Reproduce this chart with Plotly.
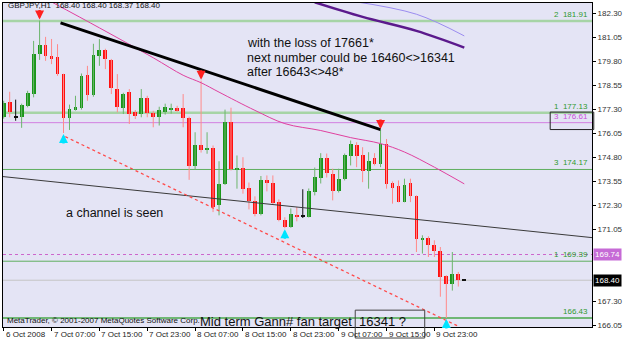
import plotly.graph_objects as go

# ---------------- data ----------------
tick_bars = [0, 8, 16, 24, 32, 40, 48, 56, 64, 72]
tick_labels = ["6 Oct 2008", "7 Oct 07:00", "7 Oct 15:00", "7 Oct 23:00", "8 Oct 07:00",
               "8 Oct 15:00", "8 Oct 23:00", "9 Oct 07:00", "9 Oct 15:00", "9 Oct 23:00"]

opens = [176.92, 177.67, 176.93, 176.92, 177.48, 178.10, 180.18, 180.66, 180.09, 180.04,
         179.14, 176.86, 177.27, 177.35, 179.10, 178.07, 180.09, 180.40, 179.88, 178.39,
         177.35, 178.19, 177.15, 177.06, 177.89, 177.13, 176.89, 177.18, 177.29, 177.36,
         177.37, 176.86, 174.33, 175.42, 175.21, 175.30, 172.30, 173.43, 176.66, 174.15,
         174.26, 173.22, 172.51, 171.83, 173.63, 173.46, 172.46, 171.54, 171.17, 171.81,
         171.76, 171.71, 172.99, 173.75, 174.79, 173.91, 173.03, 173.65, 174.85, 175.47,
         174.92, 174.07, 174.77, 174.47, 175.51, 173.48, 173.29, 172.47, 173.44, 172.77,
         170.52, 170.62, 170.22, 169.93, 168.61, 168.22, 168.72, 168.40]
highs = [177.75, 178.22, 177.81, 177.60, 178.27, 180.87, 181.93, 181.08, 180.97, 180.70,
         179.16, 177.55, 178.01, 179.17, 179.57, 180.72, 180.97, 180.46, 179.93, 179.14,
         178.17, 178.36, 177.27, 178.36, 178.01, 177.23, 177.44, 177.60, 177.60, 177.49,
         178.10, 176.92, 176.11, 178.80, 176.11, 175.42, 174.60, 177.29, 177.39, 174.90,
         174.81, 173.49, 172.77, 173.83, 173.86, 173.86, 172.61, 171.68, 172.14, 172.21,
         173.14, 173.18, 174.27, 175.02, 175.00, 174.21, 174.21, 175.00, 175.68, 175.59,
         175.33, 175.07, 175.02, 176.23, 175.76, 173.55, 173.60, 173.69, 173.69, 172.82,
         170.74, 170.69, 170.48, 170.13, 168.66, 169.87, 168.83, 168.40]
lows = [176.82, 176.89, 176.71, 176.34, 177.41, 177.93, 179.88, 179.83, 179.66, 179.05,
        176.07, 176.23, 177.24, 177.29, 177.75, 177.96, 179.57, 179.40, 178.10, 177.15,
        177.06, 176.54, 176.80, 176.89, 176.89, 176.37, 176.46, 177.03, 177.08, 177.18,
        176.37, 173.63, 174.15, 175.05, 174.99, 171.95, 171.78, 173.36, 174.12, 173.17,
        172.91, 172.09, 171.73, 171.78, 173.03, 172.35, 171.47, 171.11, 171.13, 171.47,
        171.64, 171.67, 172.82, 173.44, 173.75, 172.56, 172.97, 173.60, 174.38, 174.29,
        173.51, 173.17, 174.38, 174.29, 173.17, 172.39, 172.46, 172.46, 172.47, 169.87,
        169.79, 169.61, 169.61, 167.54, 166.43, 167.86, 168.07, 168.37]
closes = [177.65, 177.15, 176.91, 177.53, 178.13, 180.21, 180.66, 180.09, 179.95, 179.14,
          176.86, 177.30, 177.44, 179.05, 178.07, 180.14, 180.40, 179.92, 178.41, 177.41,
          178.10, 177.06, 176.98, 177.87, 177.09, 176.89, 177.27, 177.44, 177.39, 177.26,
          176.86, 174.33, 175.42, 175.18, 175.31, 172.21, 173.43, 176.66, 174.21, 174.26,
          173.17, 172.53, 171.85, 173.63, 173.46, 172.40, 171.54, 171.17, 171.85, 171.69,
          171.74, 173.03, 173.77, 174.77, 174.01, 173.05, 173.65, 174.90, 175.51, 174.87,
          174.07, 174.59, 174.43, 175.51, 173.43, 173.23, 172.47, 173.34, 172.77, 170.53,
          170.62, 170.22, 169.93, 168.57, 168.22, 168.72, 168.40, 168.40]

# moving averages (read at selected bars)
ma_pink_bars = [8, 16, 25, 30, 33, 36, 42, 47, 53, 58, 63, 67, 72, 77]
ma_pink_vals = [182.90, 181.55, 179.99, 179.08, 178.69, 178.20, 177.25, 176.56, 176.20,
                175.83, 175.52, 175.08, 174.29, 173.42]
ma_purple_bars = [52, 60, 69, 77]
ma_purple_vals = [182.88, 182.12, 181.39, 180.52]
ma_violet_bars = [58, 69, 77]
ma_violet_vals = [182.95, 182.26, 181.13]

# drawn objects
trend_bars = [9.5, 63]
trend_vals = [181.81, 176.25]
channel_bars = [-0.12, 98.35]
channel_vals = [173.80, 170.62]
gann_bars = [10.3, 76]
gann_vals = [175.88, 166.00]

levels = [181.91, 177.13, 176.61, 174.17, 169.39, 166.43]
level_text = ["2  181.91", "1  177.13", "3  176.61", "3  174.17", "1  169.39", "166.43"]
stop_level = 169.74
bid_price = 168.40

down_arrow_bars = [6, 33, 63]
up_arrow_bars = [10, 47, 74]

y_ticks = [182.30, 181.05, 179.80, 178.55, 177.30, 176.05, 174.80, 173.55, 172.30,
           171.05, 167.30, 166.05]

# ---------------- styles ----------------
UP_BODY, DN_BODY, DOJI = "#1a961a", "#ff1010", "#111111"
UP_WICK, DN_WICK = "#6cb56c", "#ff8a8a"
FONT = "Liberation Sans"

fig = go.Figure()

idx = list(range(len(opens)))
kinds = []
for o, c in zip(opens, closes):
    if abs(c - o) < 0.03:
        kinds.append("doji")
    elif c > o:
        kinds.append("up")
    else:
        kinds.append("dn")

for kind, col in (("up", UP_WICK), ("dn", DN_WICK), ("doji", DOJI)):
    xs, ys = [], []
    for i, k in enumerate(kinds):
        if k == kind:
            xs += [i, i, None]
            ys += [lows[i], highs[i], None]
    fig.add_trace(go.Scatter(x=xs, y=ys, mode="lines", line=dict(color=col, width=1),
                             hoverinfo="skip"))

heights, bases, cols = [], [], []
for i, k in enumerate(kinds):
    o, c = opens[i], closes[i]
    if k == "doji":
        heights.append(0.05)
        bases.append((o + c) / 2 - 0.025)
        cols.append(DOJI)
    else:
        heights.append(abs(c - o))
        bases.append(min(o, c))
        cols.append(UP_BODY if k == "up" else DN_BODY)
fig.add_trace(go.Bar(x=idx, y=heights, base=bases, marker=dict(color=cols, line=dict(width=0)),
                     width=0.64, hoverinfo="skip"))

# lines
fig.add_trace(go.Scatter(x=ma_pink_bars, y=ma_pink_vals, mode="lines",
                         line=dict(color="#e0409f", width=1, shape="spline"), hoverinfo="skip"))
fig.add_trace(go.Scatter(x=ma_purple_bars, y=ma_purple_vals, mode="lines",
                         line=dict(color="#5b1a8c", width=2.5, shape="spline"), hoverinfo="skip"))
fig.add_trace(go.Scatter(x=ma_violet_bars, y=ma_violet_vals, mode="lines",
                         line=dict(color="#9b8cf0", width=1, shape="spline"), hoverinfo="skip"))
fig.add_trace(go.Scatter(x=channel_bars, y=channel_vals, mode="lines",
                         line=dict(color="#3a3a3a", width=1), hoverinfo="skip"))
fig.add_trace(go.Scatter(x=gann_bars, y=gann_vals, mode="lines",
                         line=dict(color="#ff4a4a", width=1.3, dash="dot"), hoverinfo="skip"))
fig.add_trace(go.Scatter(x=trend_bars, y=trend_vals, mode="lines",
                         line=dict(color="#000000", width=3), hoverinfo="skip"))

# horizontal levels
level_styles = [("#a6d4a6", 2.5), ("#a6d4a6", 2.5), ("#d27fe0", 1), ("#5fae5f", 1),
                ("#5fae5f", 1), ("#4aa84a", 1.5)]
shapes = []
for lv, (col, w) in zip(levels, level_styles):
    shapes.append(dict(type="line", xref="paper", x0=0, x1=1, yref="y", y0=lv, y1=lv,
                       line=dict(color=col, width=w), layer="below"))
shapes.append(dict(type="line", xref="paper", x0=0, x1=1, yref="y", y0=stop_level, y1=stop_level,
                   line=dict(color="#cc66cc", width=1, dash="dot"), layer="below"))
shapes.append(dict(type="line", xref="paper", x0=0, x1=1, yref="y", y0=bid_price, y1=bid_price,
                   line=dict(color="#c4c4c4", width=1), layer="below"))
# boxes
shapes.append(dict(type="rect", xref="paper", x0=0.929, x1=1.003, yref="y", y0=176.25, y1=177.16,
                   line=dict(color="#222222", width=1)))
shapes.append(dict(type="rect", xref="paper", x0=0.598, x1=0.716, yref="paper", y0=-0.034, y1=0.052,
                   line=dict(color="#444444", width=1)))

annotations = []
for b, lab in zip(tick_bars, tick_labels):
    annotations.append(dict(x=b, xref="x", y=0, yref="paper", yanchor="top", xanchor="left",
                            yshift=-1, text=lab, showarrow=False,
                            font=dict(family=FONT, size=8, color="#222")))
label_cols = ["#2f9a2f", "#2f9a2f", "#c84fd8", "#2f9a2f", "#2f9a2f", "#2f9a2f"]
for lv, t, c in zip(levels, level_text, label_cols):
    annotations.append(dict(x=0.996, xref="paper", y=lv, yref="y", xanchor="right", yanchor="bottom",
                            text=t, showarrow=False, font=dict(family=FONT, size=8, color=c)))
annotations.append(dict(x=1, xref="paper", xanchor="left", xshift=1, y=stop_level, yref="y",
                        text=f"{stop_level:.2f}", showarrow=False, bgcolor="#c66ad6", borderpad=1,
                        font=dict(family=FONT, size=8, color="white")))
annotations.append(dict(x=1, xref="paper", xanchor="left", xshift=1, y=bid_price, yref="y",
                        text=f"{bid_price:.2f}", showarrow=False, bgcolor="#000000", borderpad=1,
                        font=dict(family=FONT, size=8, color="white")))
for b in down_arrow_bars:
    annotations.append(dict(x=b, y=highs[b], xref="x", yref="y", text="", showarrow=True,
                            ax=0, ay=-12, arrowhead=2, arrowsize=0.75, arrowwidth=2.4,
                            arrowcolor="#ff2020", standoff=1))
for b in up_arrow_bars:
    annotations.append(dict(x=b, y=lows[b], xref="x", yref="y", text="", showarrow=True,
                            ax=0, ay=12, arrowhead=2, arrowsize=0.75, arrowwidth=2.4,
                            arrowcolor="#00e4ff", standoff=1))

text_font = dict(family=FONT, size=12.5, color="#111")
annotations += [
    dict(x=0.005, y=0.991, xref="paper", yref="paper", xanchor="left", yanchor="middle",
         text=f"GBPJPY,H1  {opens[-1]:.2f} {highs[-1]:.2f} {lows[-1]:.2f} {closes[-1]:.2f}",
         showarrow=False, font=dict(family=FONT, size=8, color="#111")),
    dict(x=0.411, y=0.8765, xref="paper", yref="paper", xanchor="left", yanchor="middle",
         text="with the loss of 17661*", showarrow=False, font=text_font),
    dict(x=0.411, y=0.830, xref="paper", yref="paper", xanchor="left", yanchor="middle",
         text="next number could be 16460<>16341", showarrow=False, font=text_font),
    dict(x=0.411, y=0.7855, xref="paper", yref="paper", xanchor="left", yanchor="middle",
         text="after 16643<>48*", showarrow=False, font=text_font),
    dict(x=0.103, y=0.353, xref="paper", yref="paper", xanchor="left", yanchor="middle",
         text="a channel is seen", showarrow=False, font=text_font),
    dict(x=0.331, y=0.017, xref="paper", yref="paper", xanchor="left", yanchor="middle",
         text="Mid term Gann# fan target  16341 ?", showarrow=False,
         font=dict(family=FONT, size=13, color="#111")),
    dict(x=0.003, y=0.0215, xref="paper", yref="paper", xanchor="left", yanchor="middle",
         text="MetaTrader, © 2001-2007 MetaQuotes Software Corp.", showarrow=False,
         font=dict(family=FONT, size=8, color="#111")),
]

fig.update_layout(
    width=625, height=340, margin=dict(l=2, r=28, t=2, b=13),
    paper_bgcolor="white", plot_bgcolor="#e4e4f5", showlegend=False,
    font=dict(family=FONT, size=8, color="#222"),
    shapes=shapes, annotations=annotations, bargap=0,
    xaxis=dict(range=[-0.116, 98.35], tickvals=tick_bars, showticklabels=False,
               ticks="outside", ticklen=3, tickcolor="#000", showgrid=False, zeroline=False,
               showline=True, linecolor="#000", linewidth=1, mirror=True, fixedrange=True),
    yaxis=dict(side="right", range=[165.962, 182.845], tickvals=y_ticks,
               ticktext=[f"{v:.2f}" for v in y_ticks], ticks="outside", ticklen=3,
               tickcolor="#000", showgrid=False, zeroline=False, showline=True,
               linecolor="#000", linewidth=1, mirror=True,
               tickfont=dict(family=FONT, size=8, color="#333"), fixedrange=True),
)

fig.write_html("out.html")
